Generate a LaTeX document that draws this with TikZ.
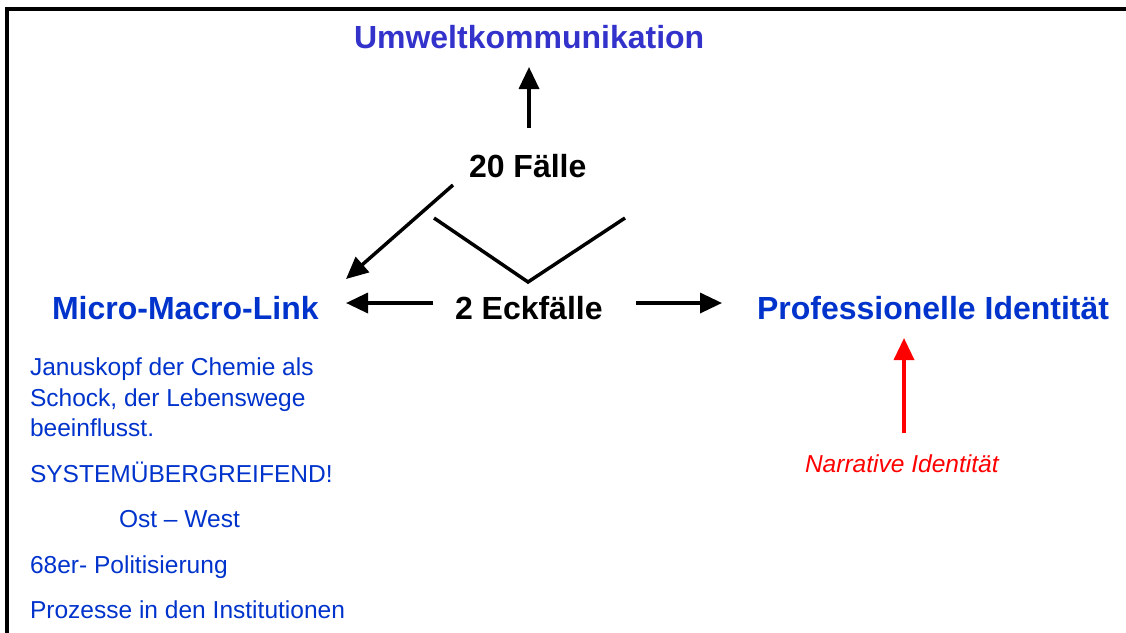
\documentclass[tikz,border=0pt]{standalone}
\usepackage{fontspec}
\setmainfont{Liberation Sans}
\usetikzlibrary{arrows.meta}
\definecolor{umwblue}{RGB}{51,51,204}
\definecolor{textblue}{RGB}{0,51,204}
\definecolor{arrred}{RGB}{255,0,0}
\begin{document}
\begin{tikzpicture}[x=0.75pt,y=-0.75pt,
  every node/.style={inner sep=0pt,outer sep=0pt,anchor=base west},
  bigbold/.style={font=\fontsize{24}{28}\selectfont\bfseries},
  smalltxt/.style={font=\fontsize{18.4}{22}\selectfont,text=textblue},
  conn/.style={line width=2.6pt,-{Triangle[length=16.5pt,width=15pt]}},
  plainline/.style={line width=2.6pt},
  frameline/.style={line width=2.4pt}]
\useasboundingbox (0,0) rectangle (1126,632);
% frame (left and top)
\draw[frameline] (7,633) -- (7,9) -- (1127,9);
% title nodes
\node[bigbold,text=umwblue] (umw) at (354,48) {Umweltkommunikation};
\node[bigbold] (f20) at (469,177) {20 Fälle};
\node[bigbold,text=textblue] (mml) at (52,319) {Micro-Macro-Link};
\node[bigbold] (eck) at (455,319) {2 Eckfälle};
\node[bigbold,text=textblue] (pid) at (757,319) {Professionelle Identität};
% left text
\node[smalltxt] (t1) at (30,375) {Januskopf der Chemie als};
\node[smalltxt] (t2) at (30,406) {Schock, der Lebenswege};
\node[smalltxt] (t3) at (30,436) {beeinflusst.};
\node[smalltxt] (t4) at (30,482) {SYSTEMÜBERGREIFEND!};
\node[smalltxt] (t5) at (119,527) {Ost – West};
\node[smalltxt] (t6) at (30,573) {68er- Politisierung};
\node[smalltxt] (t7) at (30,618) {Prozesse in den Institutionen};
\node[font=\fontsize{18.4}{22}\selectfont\itshape,text=arrred] (nid) at (805,472) {Narrative Identität};
% connector end points
\coordinate (f20top) at (529,128);
\coordinate (umwbot) at (529,67);
\coordinate (f20left) at (453,185);
\coordinate (mmltop) at (346,279);
\coordinate (vleft) at (434,218);
\coordinate (vbot) at (528,282);
\coordinate (vright) at (625,218);
\coordinate (eckleft) at (433,303);
\coordinate (mmlright) at (346,303);
\coordinate (eckright) at (636,303);
\coordinate (pidleft) at (722,303);
\coordinate (nidtop) at (904,433);
\coordinate (pidbot) at (904,338);
% connectors
\draw[conn] (f20top) -- (umwbot);
\draw[conn] (f20left) -- (mmltop);
\draw[plainline] (vleft) -- (vbot) -- (vright);
\draw[conn] (eckleft) -- (mmlright);
\draw[conn] (eckright) -- (pidleft);
\draw[conn,draw=arrred,fill=arrred] (nidtop) -- (pidbot);
\end{tikzpicture}
\end{document}
